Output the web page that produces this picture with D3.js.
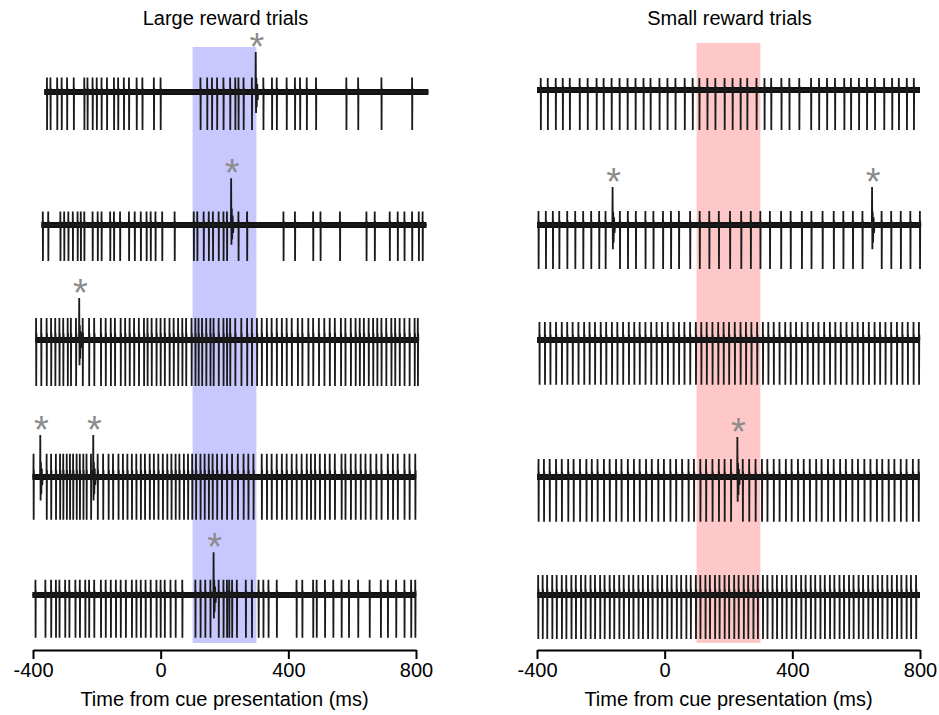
<!DOCTYPE html>
<html><head><meta charset="utf-8">
<script src="https://cdn.jsdelivr.net/npm/d3@7"></script>
<style>
body{margin:0;background:#fff}
text{font-family:"Liberation Sans",Arial,sans-serif;fill:#000}
</style>
</head><body>
<svg id="chart" width="939" height="715"></svg>
<script>
// ---- data: spike times in ms relative to cue onset ----
const panelTitles = ["Large reward trials", "Small reward trials"];
const xTicks = [-400, 0, 400, 800];
const rewardWindow = [100, 300];

// recorded window of each trial row [start, end] (ms)
const largeWindows = [[-365, 839], [-374, 833], [-393, 805], [-402, 799], [-402, 799]];
const smallWindows = [[-400, 800], [-400, 800], [-400, 800], [-400, 800], [-400, 800]];

// simple spikes, large reward trials
const largeSimple1 = [-356,-345,-324,-310,-293,-272,-239,-229,-213,-200,-185,-168,-146,-133,-115,-99,-75,-57,-21,0,125,146,161,177,197,218,234,244,260,286,322,349,364,395,421,437,458,487,582,619,692,788];
const largeSimple2 = [-369,-352,-314,-302,-289,-275,-260,-250,-239,-213,-197,-185,-158,-146,-127,-99,-81,-62,-44,-31,-16,5,44,104,115,135,151,164,182,197,208,244,271,385,421,478,501,562,645,671,718,743,764,788,809,821];
const largeSimple3 = [-390,-374,-357,-343,-330,-317,-305,-291,-281,-265,-244,-224,-208,-187,-172,-156,-143,-125,-111,-97,-83,-68,-52,-41,-28,-13,0,13,28,41,55,68,80,97,109,119,130,143,156,166,182,197,208,218,234,253,271,286,302,317,333,348,364,380,395,411,430,444,463,478,496,513,530,546,565,579,596,611,624,637,652,666,679,692,707,723,735,749,764,780,796,806];
const largeSimple4 = [-398,-357,-343,-328,-315,-305,-294,-284,-274,-263,-253,-242,-232,-218,-197,-180,-163,-149,-132,-118,-104,-90,-76,-62,-49,-34,-21,-7,7,21,34,47,59,73,86,99,111,125,138,151,163,177,192,208,224,242,260,275,291,317,333,348,364,380,395,411,426,442,458,471,484,499,515,530,546,567,579,596,611,627,642,658,676,692,712,728,743,764,780,798];
const largeSimple5 = [-392,-361,-343,-328,-317,-299,-286,-267,-253,-236,-224,-208,-187,-172,-156,-140,-125,-109,-90,-76,-62,-47,-31,-13,0,13,31,47,68,109,125,140,156,182,197,208,215,224,239,267,286,307,322,338,364,426,444,478,489,515,541,567,590,619,655,690,712,738,764,785,798];
const largeComplex = [[298], [221], [-255], [-377, -211], [166]];

// simple spikes, small reward trials
const smallSimple1 = [-388,-366,-341,-319,-297,-266,-241,-213,-191,-166,-141,-116,-91,-66,-44,-16,9,34,63,88,109,134,159,188,213,238,259,288,313,334,366,391,422,459,484,509,534,563,584,609,634,659,688,713,734,759,781];
const smallSimple2 = [-395,-372,-350,-330,-305,-280,-255,-230,-205,-185,-140,-115,-90,-60,-35,-5,20,45,80,110,140,170,205,240,270,300,330,365,395,430,460,495,530,560,590,620,680,710,740,770,800];
const smallSimple3 = [-392,-375,-358,-340,-322,-305,-288,-270,-252,-235,-218,-200,-183,-165,-148,-130,-112,-95,-78,-60,-42,-25,-8,10,28,45,62,80,98,115,132,150,168,185,202,220,238,255,272,290,308,325,342,360,378,395,412,430,448,465,482,500,518,535,552,570,588,605,622,640,658,675,692,710,728,745,762,780,797];
const smallSimple4 = [-395,-378,-360,-340,-322,-302,-285,-265,-245,-228,-210,-190,-172,-152,-135,-115,-96,-78,-58,-40,-20,-2,18,36,55,75,92,112,130,150,170,188,208,245,265,285,305,322,342,360,380,398,418,436,455,475,492,512,530,550,568,588,606,626,645,665,682,702,720,740,758,778,796];
const smallSimple5 = [-396,-382,-368,-352,-338,-322,-308,-292,-278,-262,-248,-232,-218,-202,-188,-172,-158,-142,-128,-112,-98,-82,-68,-52,-38,-22,-8,8,22,38,52,68,82,98,112,128,142,158,172,188,202,218,232,248,262,278,292,308,322,338,352,368,382,398,412,428,442,458,472,488,502,518,532,548,562,578,592,608,622,638,652,668,682,698,712,728,742,758,772,788];
const smallComplex = [[], [-163, 650], [], [228], []];

const largeTrials = [largeSimple1, largeSimple2, largeSimple3, largeSimple4, largeSimple5];
const smallTrials = [smallSimple1, smallSimple2, smallSimple3, smallSimple4, smallSimple5];

// normalised amplitudes per row (1 = reference spike size)
const largeDepth = [0.95, 0.9, 1.15, 1.07, 1.07];
const largeUp = [0.36, 0.34, 0.55, 0.58, 0.38];
const largeComplexHeight = [1.0, 1.17, 1.05, 1.05, 1.07];
const smallDepth = [1.0, 1.1, 1.12, 1.12, 1.1];
const smallUp = [0.3, 0.35, 0.45, 0.45, 0.5];
const smallComplexHeight = [0, 0.95, 0, 1.0, 0];

// ---- drawing ----
const svg = d3.select("#chart");

const panels = [
  {title: panelTitles[0], x: d3.scaleLinear().domain([-400, 800]).range([33, 416]),
   rows: [92, 225, 340, 477, 595], shadeTop: 47, fill: "#c8c8ff",
   trials: largeTrials, complex: largeComplex, windows: largeWindows,
   depth: largeDepth, up: largeUp, ch: largeComplexHeight},
  {title: panelTitles[1], x: d3.scaleLinear().domain([-400, 800]).range([537, 920]),
   rows: [90, 225, 340, 477, 595], shadeTop: 43, fill: "#ffc8c8",
   trials: smallTrials, complex: smallComplex, windows: smallWindows,
   depth: smallDepth, up: smallUp, ch: smallComplexHeight}
];

// voltage (normalised) -> pixel offset from a row's centre
const v = d3.scaleLinear().domain([-1, 1]).range([40, -40]);
const axisY = 650;

function traceLine(p, i) {
  const win = p.windows[i];
  const ev = p.trials[i].map(t => ({t, c: false}))
    .concat(p.complex[i].map(t => ({t, c: true})))
    .sort((a, b) => a.t - b.t);
  const d = p.depth[i], u = p.up[i], h = p.ch[i];
  const pts = [[win[0], 0]];
  ev.forEach(e => {
    const t = e.t;
    if (!e.c) {
      pts.push([t - 0.7, 0], [t - 0.3, u], [t + 0.1, -d], [t + 0.7, u * 0.3], [t + 1.3, 0]);
    } else {
      pts.push([t - 0.8, 0], [t - 0.2, h], [t + 0.8, -0.55 * d], [t + 1.8, h * 0.35],
               [t + 3, -0.4 * d], [t + 4.5, h * 0.2], [t + 6, -0.2], [t + 7.5, 0]);
    }
  });
  pts.push([win[1], 0]);
  const y0 = p.rows[i];
  return d3.line().x(q => p.x(q[0])).y(q => y0 + v(q[1]))(pts);
}

panels.forEach(p => {
  const g = svg.append("g");
  // reward-period shading
  g.append("rect")
    .attr("x", p.x(rewardWindow[0]))
    .attr("width", p.x(rewardWindow[1]) - p.x(rewardWindow[0]))
    .attr("y", p.shadeTop).attr("height", 643 - p.shadeTop)
    .attr("fill", p.fill);

  p.rows.forEach((y0, i) => {
    const win = p.windows[i];
    // baseline noise band
    g.append("line")
      .attr("x1", p.x(win[0])).attr("x2", p.x(win[1]))
      .attr("y1", y0).attr("y2", y0)
      .attr("stroke", "#111").attr("stroke-width", 6);
    g.append("path")
      .attr("d", traceLine(p, i))
      .attr("fill", "none").attr("stroke", "#1a1a1a")
      .attr("stroke-width", 1.8).attr("stroke-linejoin", "miter");
    // asterisks above complex spikes
    p.complex[i].forEach(t => {
      g.append("text")
        .attr("x", p.x(t) + 1).attr("y", y0 + v(p.ch[i]) - 14 + 22)
        .attr("text-anchor", "middle")
        .style("font-size", "38px").style("fill", "#8c8c8c")
        .text("*");
    });
  });

  // panel title
  g.append("text").attr("x", (p.x(-400) + p.x(800)) / 2 + 1).attr("y", 25)
    .attr("text-anchor", "middle").style("font-size", "20px").text(p.title);

  // time axis
  const ax = g.append("g").attr("transform", `translate(0,${axisY})`)
    .call(d3.axisBottom(p.x).tickValues(xTicks).tickSizeInner(9).tickSizeOuter(0)
      .tickPadding(4).tickFormat(d => String(d)));
  ax.select(".domain").attr("stroke", "#000").attr("stroke-width", 2);
  ax.selectAll(".tick line").attr("stroke", "#000").attr("stroke-width", 2);
  ax.selectAll(".tick text").style("font-size", "20px").attr("fill", "#000")
    .style("font-family", "'Liberation Sans', Arial, sans-serif");
  g.append("text").attr("x", (p.x(-400) + p.x(800)) / 2).attr("y", 706)
    .attr("text-anchor", "middle").style("font-size", "20px")
    .text("Time from cue presentation (ms)");
});
</script>
</body></html>
